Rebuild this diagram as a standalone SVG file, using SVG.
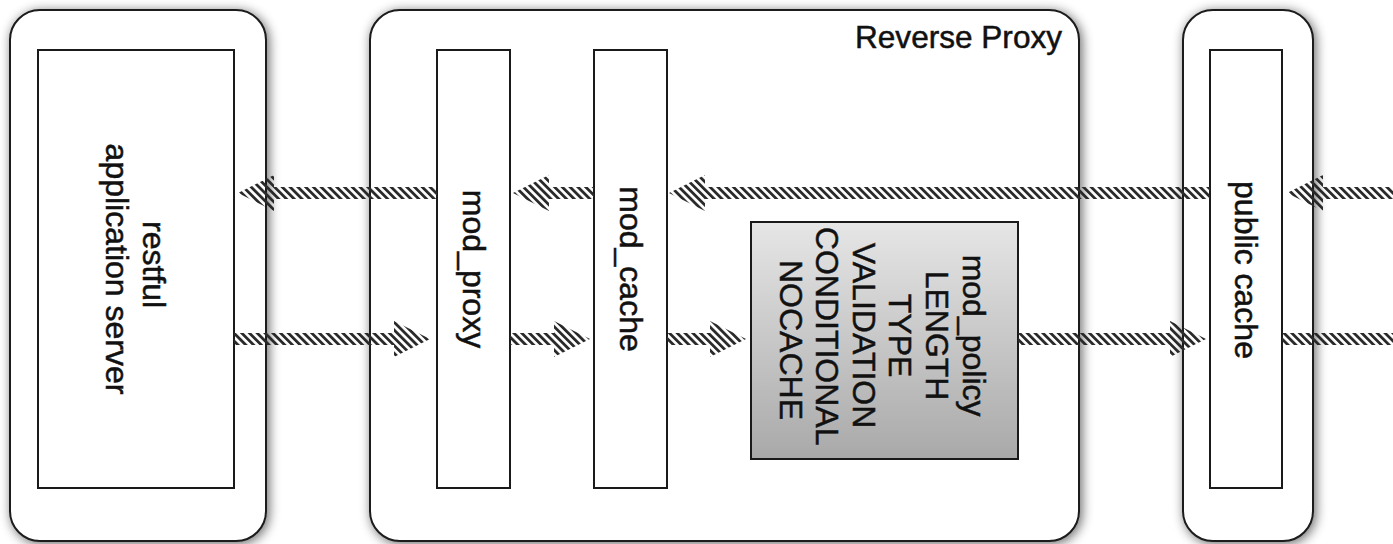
<svg xmlns="http://www.w3.org/2000/svg" width="1393" height="544" viewBox="0 0 1393 544">
<style>
  .outer { fill: #ffffff; stroke: #1a1a1a; stroke-width: 2; filter: url(#shadow); }
  .inner { fill: #ffffff; stroke: #1a1a1a; stroke-width: 2; }
  .policy { fill: url(#grayGrad); stroke: #1a1a1a; stroke-width: 2; }
  .lbl { font-family: "Liberation Sans", Arial, sans-serif; font-size: 32px; fill: #111; stroke: #111; stroke-width: 0.5; }
  .arrow { fill: url(#hatch); stroke: none; }
</style>
<defs>
  <filter id="shadow" x="-20%" y="-20%" width="140%" height="140%">
    <feGaussianBlur in="SourceAlpha" stdDeviation="6"/>
    <feOffset dx="2" dy="2" result="b"/>
    <feComponentTransfer><feFuncA type="linear" slope="0.6"/></feComponentTransfer>
    <feMerge><feMergeNode/><feMergeNode in="SourceGraphic"/></feMerge>
  </filter>
  <linearGradient id="grayGrad" x1="0" y1="0" x2="0" y2="1">
    <stop offset="0" stop-color="#e6e6e6"/>
    <stop offset="1" stop-color="#a9a9a9"/>
  </linearGradient>
  <pattern id="hatch" width="5.5" height="5.5" patternUnits="userSpaceOnUse" patternTransform="rotate(-45)">
    <rect x="0" y="0" width="2.8" height="5.5" fill="#2a2a2a"/>
  </pattern>
</defs>

<g id="app-server">
  <rect class="outer" x="10" y="10" width="256" height="531" rx="30" ry="30"/>
  <rect class="inner" x="38" y="50" width="196" height="438"/>
  <text class="lbl" transform="translate(136,269) rotate(90)" text-anchor="middle">
    <tspan x="0" y="-7">restful</tspan>
    <tspan x="0" y="30">application server</tspan>
  </text>
</g>

<g id="reverse-proxy">
  <rect class="outer" x="370" y="10" width="709" height="531" rx="30" ry="30"/>
  <text class="lbl" x="855" y="48" font-size="29" textLength="207" lengthAdjust="spacingAndGlyphs">Reverse Proxy</text>
</g>

<g id="mod-proxy">
  <rect class="inner" x="437" y="50" width="73" height="438"/>
  <text class="lbl" transform="translate(473.5,269) rotate(90)" text-anchor="middle" y="11">mod_proxy</text>
</g>

<g id="mod-cache">
  <rect class="inner" x="594" y="50" width="73" height="438"/>
  <text class="lbl" transform="translate(630.5,269) rotate(90)" text-anchor="middle" y="11">mod_cache</text>
</g>

<g id="mod-policy">
  <rect class="policy" x="751" y="222" width="267" height="237"/>
  <text class="lbl" transform="translate(882,340) rotate(90)" text-anchor="middle">
    <tspan x="0" y="-81">mod_policy</tspan>
    <tspan x="0" y="-44">LENGTH</tspan>
    <tspan x="0" y="-7">TYPE</tspan>
    <tspan x="0" y="29">VALIDATION</tspan>
    <tspan x="0" y="66">CONDITIONAL</tspan>
    <tspan x="0" y="102">NOCACHE</tspan>
  </text>
</g>

<g id="public-cache">
  <rect class="outer" x="1183" y="10" width="130" height="531" rx="30" ry="30"/>
  <rect class="inner" x="1210" y="50" width="72" height="438"/>
  <text class="lbl" transform="translate(1246,270) rotate(90)" text-anchor="middle" y="11">public cache</text>
</g>

<g id="connectors">
  <!-- top row: responses flowing left -->
  <polygon class="arrow" points="1400,187 1323,187 1323,175 1287,193 1323,211 1323,199 1400,199"/>
  <polygon class="arrow" points="1210,187 705,187 705,175 669,193 705,211 705,199 1210,199"/>
  <polygon class="arrow" points="594,187 549,187 549,175 513,193 549,211 549,199 594,199"/>
  <polygon class="arrow" points="437,187 274,187 274,175 238,193 274,211 274,199 437,199"/>
  <!-- bottom row: requests flowing right -->
  <polygon class="arrow" points="234,333 394,333 394,321 430,339 394,357 394,345 234,345"/>
  <polygon class="arrow" points="510,333 554,333 554,321 590,339 554,357 554,345 510,345"/>
  <polygon class="arrow" points="667,333 710,333 710,321 746,339 710,357 710,345 667,345"/>
  <polygon class="arrow" points="1018,333 1170,333 1170,321 1206,339 1170,357 1170,345 1018,345"/>
  <polygon class="arrow" points="1282,333 1400,333 1400,345 1282,345"/>
</g>
</svg>
